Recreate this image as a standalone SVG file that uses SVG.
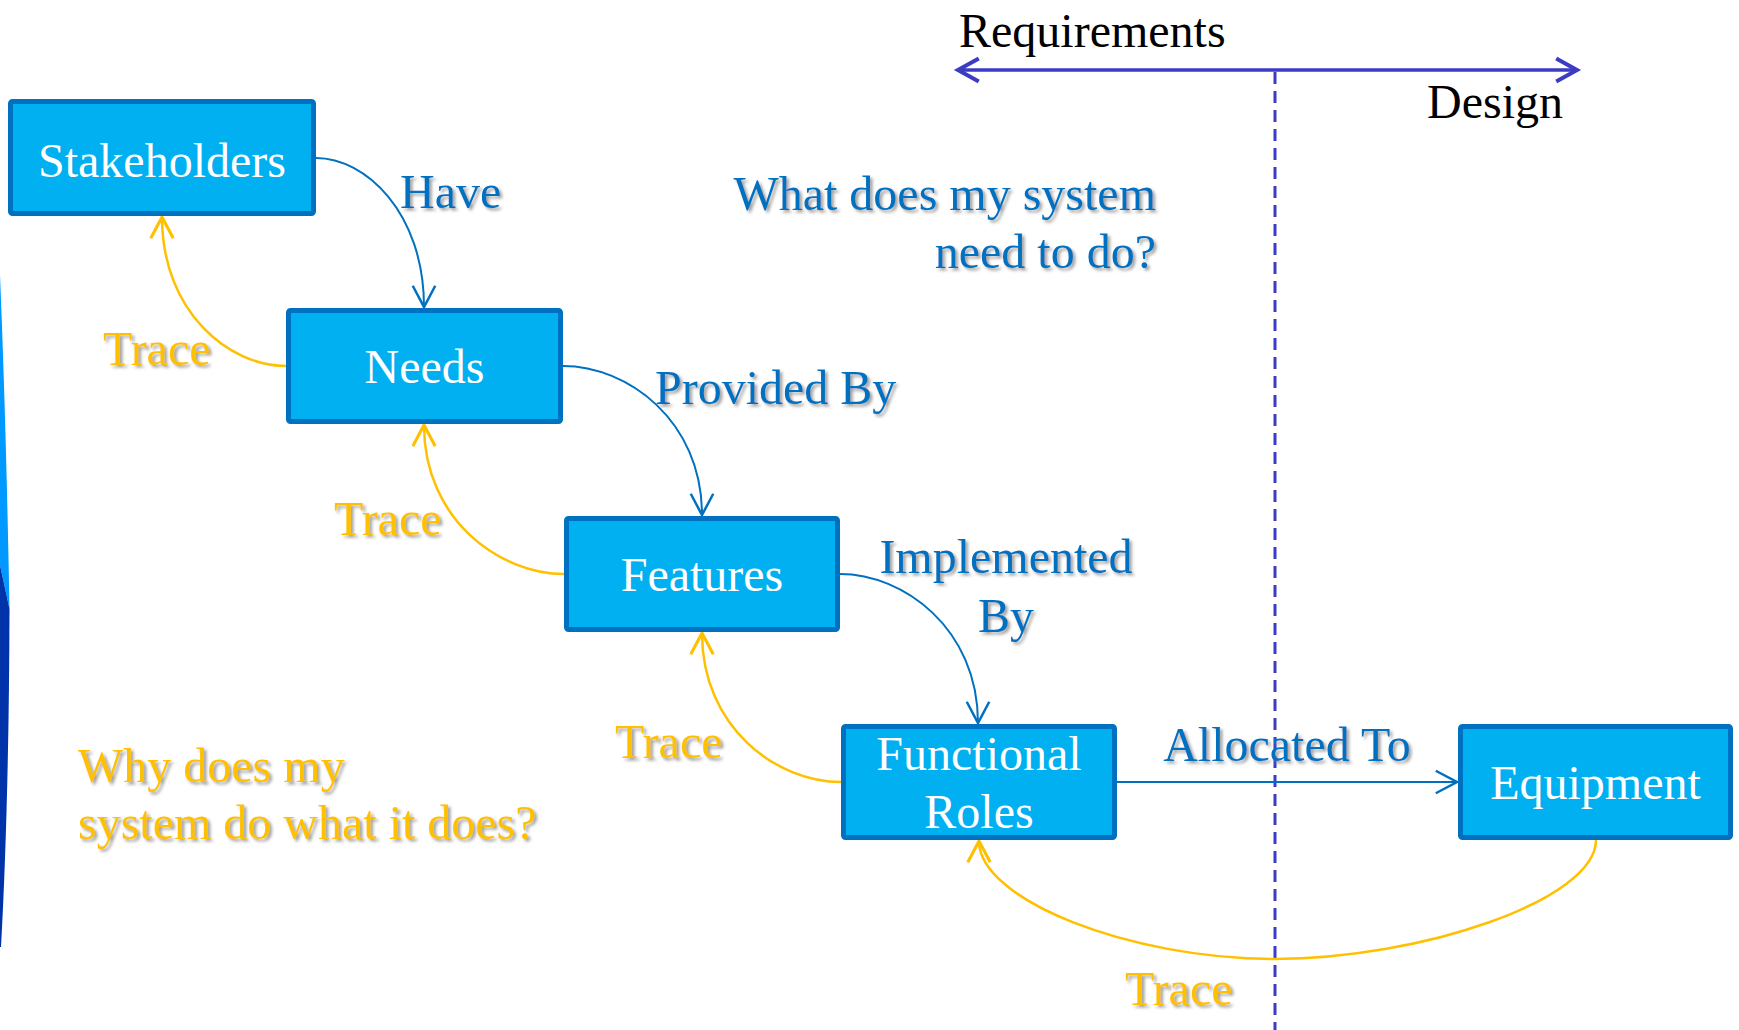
<svg xmlns="http://www.w3.org/2000/svg" width="1739" height="1030" viewBox="0 0 1739 1030">
<defs>
<style>
.box{fill:#00B0F0;stroke:#0070C0;stroke-width:5}
.nt{font-family:"Liberation Serif","Times New Roman",serif;font-size:48px;fill:#FFFFFF;text-anchor:middle}
.bl{font-family:"Liberation Serif","Times New Roman",serif;font-size:48px;fill:#0070C0}
.yl{font-family:"Liberation Serif","Times New Roman",serif;font-size:48px;fill:#FFC000}
.bk{font-family:"Liberation Serif","Times New Roman",serif;font-size:48px;fill:#000000}
.cb{fill:none;stroke:#0070C0;stroke-width:2}
.cy{fill:none;stroke:#FFC000;stroke-width:2.5}
</style>
<filter id="sh" x="-10%" y="-20%" width="130%" height="150%">
<feDropShadow dx="2.5" dy="2.5" stdDeviation="1.5" flood-color="#7f7f7f" flood-opacity="0.75"/>
</filter>
<marker id="ab" markerUnits="userSpaceOnUse" markerWidth="30" markerHeight="30" viewBox="-20 -12 24 24" refX="0" refY="0" orient="auto">
<path d="M-17,-9 L0,0 L-17,9" fill="none" stroke="#0070C0" stroke-width="2"/>
</marker>
<marker id="ay" markerUnits="userSpaceOnUse" markerWidth="30" markerHeight="30" viewBox="-20 -12 24 24" refX="0" refY="0" orient="auto">
<path d="M-17,-9 L0,0 L-17,9" fill="none" stroke="#FFC000" stroke-width="2.5"/>
</marker>
<marker id="ap" markerUnits="userSpaceOnUse" markerWidth="30" markerHeight="30" viewBox="-22 -13 26 26" refX="0" refY="0" orient="auto-start-reverse">
<path d="M-18,-10 L0,0 L-18,10" fill="none" stroke="#3B3BC4" stroke-width="3.5"/>
</marker>
</defs>
<rect width="1739" height="1030" fill="#FFFFFF"/>

<g id="edge-decoration">
<path d="M0,275 Q6,420 9.5,609 L0,565 Z" fill="#0099FF"/>
<path d="M0,565 L9.5,609 Q9,800 1,947 L0,947 Z" fill="#0033AA"/>
</g>

<g id="axis">
<path d="M958,70 L1577,70" fill="none" stroke="#3B3BC4" stroke-width="3.5" marker-start="url(#ap)" marker-end="url(#ap)"/>
<path d="M1275,72 L1275,1030" fill="none" stroke="#3B3BC4" stroke-width="3" stroke-dasharray="12 7"/>
<text class="bk" x="959" y="47">Requirements</text>
<text class="bk" x="1427" y="118">Design</text>
</g>

<g id="connectors">
<path class="cb" d="M316,158 C365,158 424,212 424,307" marker-end="url(#ab)"/>
<path class="cb" d="M563,366 C627,366 702,420 702,515" marker-end="url(#ab)"/>
<path class="cb" d="M840,574 C903,574 978,628 978,723" marker-end="url(#ab)"/>
<path class="cb" d="M1117,782 L1457,782" marker-end="url(#ab)"/>
<path class="cy" d="M286,366 C229,366 162,312 162,217" marker-end="url(#ay)"/>
<path class="cy" d="M564,574 C500,574 424,520 424,425" marker-end="url(#ay)"/>
<path class="cy" d="M841,782 C777,782 702,728 702,633" marker-end="url(#ay)"/>
<path class="cy" d="M1596,840 C1596,900 1420,959 1275,959 C1130,959 979,900 979,841" marker-end="url(#ay)"/>
</g>

<g id="labels" filter="url(#sh)">
<text class="bl" x="400" y="208">Have</text>
<text class="bl" x="655" y="404">Provided By</text>
<text class="bl" x="1006" y="573" text-anchor="middle">Implemented</text>
<text class="bl" x="1006" y="632" text-anchor="middle">By</text>
<text class="bl" x="1287" y="761" text-anchor="middle">Allocated To</text>
<text class="bl" x="1156" y="210" text-anchor="end">What does my system</text>
<text class="bl" x="1156" y="268" text-anchor="end">need to do?</text>
<text class="yl" x="103" y="365">Trace</text>
<text class="yl" x="334" y="535">Trace</text>
<text class="yl" x="615" y="758">Trace</text>
<text class="yl" x="1125" y="1005">Trace</text>
<text class="yl" x="78" y="782">Why does my</text>
<text class="yl" x="78" y="839">system do what it does?</text>
</g>

<g id="node-stakeholders">
<rect class="box" x="10.5" y="101.5" width="303" height="112" rx="2"/>
<text class="nt" x="162" y="177">Stakeholders</text>
</g>
<g id="node-needs">
<rect class="box" x="288.5" y="310.5" width="272" height="111" rx="2"/>
<text class="nt" x="424.5" y="383">Needs</text>
</g>
<g id="node-features">
<rect class="box" x="566.5" y="518.5" width="271" height="111" rx="2"/>
<text class="nt" x="702" y="591">Features</text>
</g>
<g id="node-functional-roles">
<rect class="box" x="843.5" y="726.5" width="271" height="111" rx="2"/>
<text class="nt" x="979" y="770">Functional</text>
<text class="nt" x="979" y="828">Roles</text>
</g>
<g id="node-equipment">
<rect class="box" x="1460.5" y="726.5" width="270" height="111" rx="2"/>
<text class="nt" x="1595.5" y="799">Equipment</text>
</g>
</svg>
